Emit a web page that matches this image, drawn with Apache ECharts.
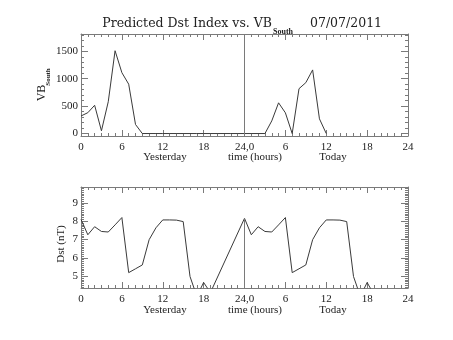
<!DOCTYPE html>
<html>
<head>
<meta charset="utf-8">
<script src="https://cdn.jsdelivr.net/npm/echarts@6/dist/echarts.min.js"></script>
<style>
  html, body { margin: 0; padding: 0; background: #fff; }
  #chart { width: 453px; height: 340px; }
</style>
</head>
<body>
<div id="chart"></div>
<script>
// Hourly VB_South, hour 0 = start of yesterday (index = hour)
const vbSouth = [320, 380, 515, 50, 580, 1510, 1110, 900, 165, 0,
                 0, 0, 0, 0, 0, 0, 0, 0, 0, 0,
                 0, 0, 0, 0, 0, 0, 0, 0, 230, 560,
                 378, 0, 818, 928, 1160, 268, 0];

// Hourly predicted Dst (nT); null = no value for that hour
const dstValues = [8.10, 7.26, 7.70, 7.44, 7.41, 7.80, 8.20, 5.19, 5.40, 5.61,
                   6.99, 7.64, 8.07, 8.07, 8.06, 7.98, 4.98, 3.90, 4.65, 4.10,
                   null, null, null, null,
                   8.16, 7.26, 7.70, 7.44, 7.41, 7.80, 8.20, 5.19, 5.40, 5.61,
                   6.99, 7.64, 8.07, 8.07, 8.06, 7.98, 4.98, 3.90, 4.65, 4.00];

// Axis ticks and labels
const xTickLabels = ['0', '6', '12', '18', '24,0', '6', '12', '18', '24'];
const vbMajorTicks = [0, 500, 1000, 1500];
const dstMajorTicks = [5, 6, 7, 8, 9];
const vbRange = [-45, 1815];
const dstRange = [4.35, 9.87];
const dayBoundary = 24;

const FONT = 'Liberation Serif';
const TITLE_FONT = 'DejaVu Serif';
const AXIS_COLOR = '#7a7a7a';
const LINE_COLOR = '#3a3a3a';
const TEXT_COLOR = '#222';

function range(from, to, step) {
  const out = [];
  for (let v = from; v <= to + 1e-9; v += step) out.push(Math.round(v * 1000) / 1000);
  return out;
}
const vbMinorTicks = range(0, 1800, 100);
const dstMinorTicks = range(4.4, 9.8, 0.1);

function xAxes(gridIndex) {
  const base = {
    type: 'value', gridIndex, min: 0, max: 48, interval: 6,
    axisLine: { show: true, onZero: false, lineStyle: { color: AXIS_COLOR, width: 1 } },
    axisTick: { show: true, inside: true, length: 6, lineStyle: { color: AXIS_COLOR } },
    minorTick: { show: true, splitNumber: 6, length: 3, lineStyle: { color: AXIS_COLOR } },
    splitLine: { show: false }, minorSplitLine: { show: false }
  };
  return [
    Object.assign({}, base, {
      position: 'bottom',
      axisLabel: {
        show: true, margin: 6, fontFamily: FONT, fontSize: 11, color: TEXT_COLOR,
        formatter: v => xTickLabels[Math.round(v / 6)]
      }
    }),
    Object.assign({}, base, { position: 'top', axisLabel: { show: false } })
  ];
}

function yAxes(gridIndex, rangeArr, majors, minors) {
  const common = {
    type: 'value', gridIndex, min: rangeArr[0], max: rangeArr[1],
    splitLine: { show: false }
  };
  const make = (position, ticks, len, withLine, withLabels) => Object.assign({}, common, {
    position,
    axisLine: { show: withLine, lineStyle: { color: AXIS_COLOR, width: 1 } },
    axisTick: { show: true, inside: true, length: len, customValues: ticks, lineStyle: { color: AXIS_COLOR } },
    axisLabel: withLabels ? {
      show: true, margin: 3, fontFamily: FONT, fontSize: 11, color: TEXT_COLOR,
      customValues: majors, formatter: v => String(v)
    } : { show: false }
  });
  return [
    make('left', majors, 7, true, true),
    make('left', minors, 3, false, false),
    make('right', majors, 7, true, false),
    make('right', minors, 3, false, false)
  ];
}

const chart = echarts.init(document.getElementById('chart'), null, { renderer: 'canvas' });

const txt = (x, y, text, font, extra) => Object.assign({
  type: 'text', x, y,
  style: { text, font, fill: TEXT_COLOR, align: 'center', verticalAlign: 'middle' }
}, extra || {});

chart.setOption({
  animation: false,
  backgroundColor: '#fff',
  grid: [
    { left: 81, right: 45, top: 34, height: 102, outerBoundsMode: 'none' },
    { left: 81, right: 45, top: 187, height: 101, outerBoundsMode: 'none' }
  ],
  xAxis: [...xAxes(0), ...xAxes(1)],
  yAxis: [
    ...yAxes(0, vbRange, vbMajorTicks, vbMinorTicks),
    ...yAxes(1, dstRange, dstMajorTicks, dstMinorTicks)
  ],
  series: [
    {
      name: 'VB South', type: 'line', xAxisIndex: 0, yAxisIndex: 0,
      data: vbSouth.map((v, h) => [h, v]),
      symbol: 'none', lineStyle: { color: LINE_COLOR, width: 1 },
      markLine: {
        silent: true, symbol: ['none', 'none'], label: { show: false },
        lineStyle: { color: AXIS_COLOR, type: 'solid', width: 1 },
        data: [{ xAxis: dayBoundary }]
      }
    },
    {
      name: 'Dst', type: 'line', xAxisIndex: 2, yAxisIndex: 4,
      data: dstValues.map((v, h) => [h, v]),
      connectNulls: true, clip: true,
      symbol: 'none', lineStyle: { color: LINE_COLOR, width: 1 },
      markLine: {
        silent: true, symbol: ['none', 'none'], label: { show: false },
        lineStyle: { color: AXIS_COLOR, type: 'solid', width: 1 },
        data: [[{ coord: [dayBoundary, dstRange[0]] }, { coord: [dayBoundary, dstValues[dayBoundary]] }]]
      }
    }
  ],
  graphic: [
    // title
    { type: 'text', x: 272, y: 24, style: { text: 'Predicted Dst Index vs. VB', font: '12.5px "' + TITLE_FONT + '"', fill: TEXT_COLOR, align: 'right', verticalAlign: 'middle' } },
    { type: 'text', x: 273, y: 32, style: { text: 'South', font: 'bold 8px "' + FONT + '"', fill: TEXT_COLOR, align: 'left', verticalAlign: 'middle' } },
    { type: 'text', x: 310, y: 24, style: { text: '07/07/2011', font: '12.5px "' + TITLE_FONT + '"', fill: TEXT_COLOR, align: 'left', verticalAlign: 'middle' } },
    // y axis names
    txt(42, 93, 'VB', '12px "' + FONT + '"', { rotation: Math.PI / 2 }),
    txt(48, 77, 'South', 'bold 7px "' + FONT + '"', { rotation: Math.PI / 2 }),
    txt(61, 244, 'Dst (nT)', '11px "' + FONT + '"', { rotation: Math.PI / 2 }),
    // x axis names
    txt(165, 157, 'Yesterday', '11px "' + FONT + '"'),
    txt(255, 157, 'time (hours)', '11px "' + FONT + '"'),
    txt(333, 157, 'Today', '11px "' + FONT + '"'),
    txt(165, 310, 'Yesterday', '11px "' + FONT + '"'),
    txt(255, 310, 'time (hours)', '11px "' + FONT + '"'),
    txt(333, 310, 'Today', '11px "' + FONT + '"')
  ]
});
</script>
</body>
</html>
